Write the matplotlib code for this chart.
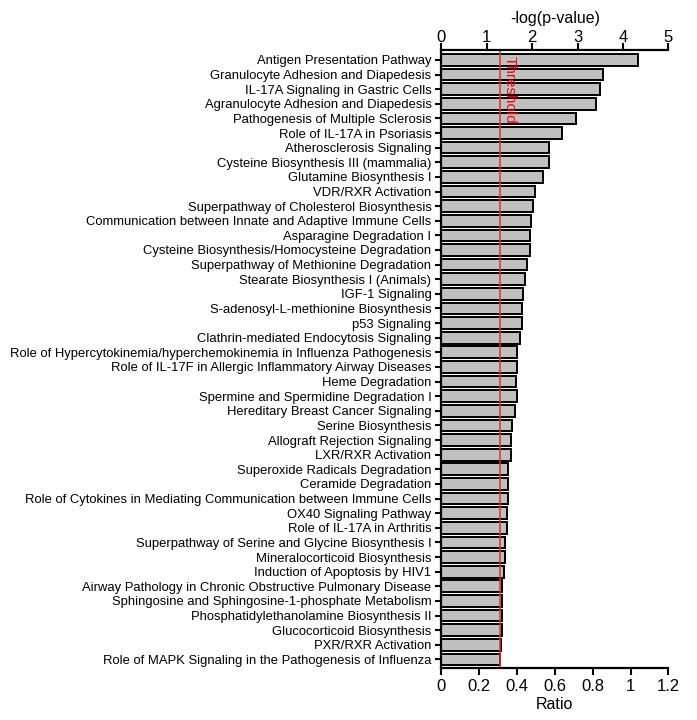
import matplotlib.pyplot as plt

plt.rcParams['font.family'] = ['Liberation Sans', 'DejaVu Sans']

# Pathways (top to bottom) and -log(p-value)
pathways = [
    "Antigen Presentation Pathway",
    "Granulocyte Adhesion and Diapedesis",
    "IL-17A Signaling in Gastric Cells",
    "Agranulocyte Adhesion and Diapedesis",
    "Pathogenesis of Multiple Sclerosis",
    "Role of IL-17A in Psoriasis",
    "Atherosclerosis Signaling",
    "Cysteine Biosynthesis III (mammalia)",
    "Glutamine Biosynthesis I",
    "VDR/RXR Activation",
    "Superpathway of Cholesterol Biosynthesis",
    "Communication between Innate and Adaptive Immune Cells",
    "Asparagine Degradation I",
    "Cysteine Biosynthesis/Homocysteine Degradation",
    "Superpathway of Methionine Degradation",
    "Stearate Biosynthesis I (Animals)",
    "IGF-1 Signaling",
    "S-adenosyl-L-methionine Biosynthesis",
    "p53 Signaling",
    "Clathrin-mediated Endocytosis Signaling",
    "Role of Hypercytokinemia/hyperchemokinemia in Influenza Pathogenesis",
    "Role of IL-17F in Allergic Inflammatory Airway Diseases",
    "Heme Degradation",
    "Spermine and Spermidine Degradation I",
    "Hereditary Breast Cancer Signaling",
    "Serine Biosynthesis",
    "Allograft Rejection Signaling",
    "LXR/RXR Activation",
    "Superoxide Radicals Degradation",
    "Ceramide Degradation",
    "Role of Cytokines in Mediating Communication between Immune Cells",
    "OX40 Signaling Pathway",
    "Role of IL-17A in Arthritis",
    "Superpathway of Serine and Glycine Biosynthesis I",
    "Mineralocorticoid Biosynthesis",
    "Induction of Apoptosis by HIV1",
    "Airway Pathology in Chronic Obstructive Pulmonary Disease",
    "Sphingosine and Sphingosine-1-phosphate Metabolism",
    "Phosphatidylethanolamine Biosynthesis II",
    "Glucocorticoid Biosynthesis",
    "PXR/RXR Activation",
    "Role of MAPK Signaling in the Pathogenesis of Influenza",
]
neg_log_p = [
    4.32, 3.55, 3.50, 3.41, 2.97, 2.66, 2.38, 2.37, 2.25, 2.06,
    2.02, 1.98, 1.96, 1.96, 1.89, 1.84, 1.79, 1.77, 1.77, 1.74,
    1.67, 1.67, 1.65, 1.66, 1.62, 1.56, 1.53, 1.53, 1.48, 1.48,
    1.48, 1.44, 1.44, 1.41, 1.41, 1.38, 1.34, 1.34, 1.34, 1.34,
    1.32, 1.29,
]
threshold = 1.3
ratio_ticks = [0, 0.2, 0.4, 0.6, 0.8, 1, 1.2]

fig = plt.figure(figsize=(6.97, 7.2), dpi=100)
ax = fig.add_axes([0.633, 0.072, 0.326, 0.859])

# Ratio axis at the bottom (created first; twiny resets ax's x axis)
ax2 = ax.twiny()

y = list(range(len(pathways)))
ax.barh(y, neg_log_p, height=0.8, color="#c0c0c0", edgecolor="black", linewidth=1.4)
ax.axvline(threshold, color="#e03030", linewidth=1.1)
ax.text(threshold + 0.06, -0.3, "Threshold", color="red", rotation=-90,
        va="top", ha="left", fontsize=11)

ax.set_ylim(len(pathways) - 0.4, -0.7)
ax.set_yticks(y)
ax.set_yticklabels(pathways, fontsize=9.4)
ax.set_xlim(0, 5)
ax.set_xticks(range(6))
ax.xaxis.tick_top()
ax.xaxis.set_label_position("top")
ax.set_xlabel("-log(p-value)", fontsize=11.5, labelpad=5)
ax.tick_params(axis="x", labelsize=12, width=1.5, length=5, pad=-1.5)
ax.tick_params(axis="y", width=1.5, length=4, pad=3)
for s in ["right", "bottom"]:
    ax.spines[s].set_visible(False)
ax.spines["top"].set_linewidth(1.6)
ax.spines["left"].set_linewidth(1.6)

ax2.set_xlim(0, 1.2)
ax2.set_xticks(ratio_ticks)
ax2.set_xticklabels(["0", "0.2", "0.4", "0.6", "0.8", "1", "1.2"])
ax2.xaxis.tick_bottom()
ax2.xaxis.set_label_position("bottom")
ax2.set_xlabel("Ratio", fontsize=11.5, labelpad=2)
ax2.tick_params(axis="x", labelsize=12, width=1.5, length=5, pad=3)
for s in ["right", "top", "left"]:
    ax2.spines[s].set_visible(False)
ax2.spines["bottom"].set_linewidth(1.6)

plt.savefig("out.png", dpi=100)
